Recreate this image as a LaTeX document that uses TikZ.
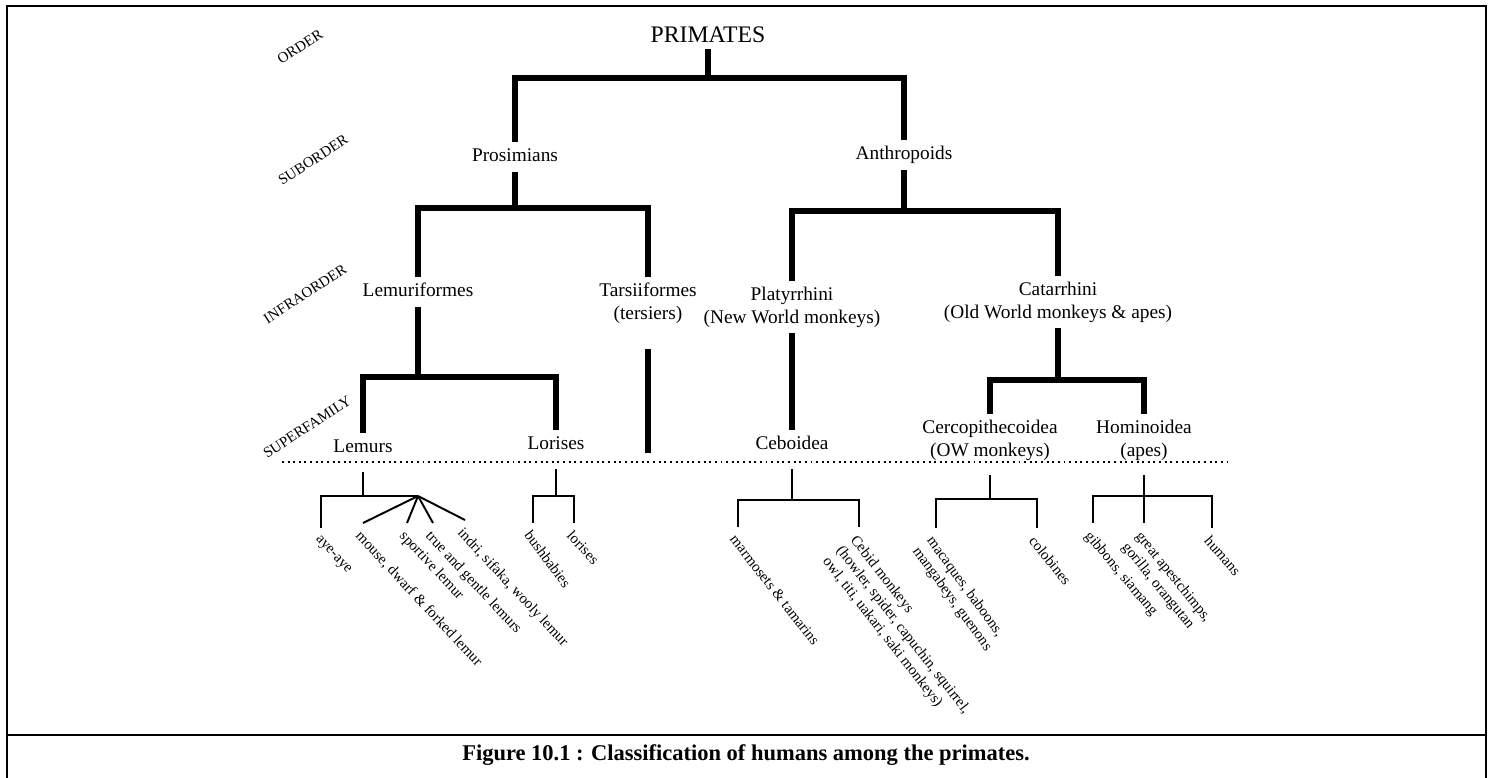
\documentclass[tikz,border=0pt]{standalone}
\usepackage{fontspec}
\setmainfont{Liberation Serif}

\begin{document}
\begin{tikzpicture}[x=0.02cm,y=-0.02cm,
  taxon/.style={font=\fontsize{11}{13}\selectfont,inner sep=0pt,outer sep=3.5pt,align=center},
  line1/.style={text height=8pt,text depth=2.5pt},
  rank/.style={font=\fontsize{8.5}{10}\selectfont,rotate=33},
  leaf/.style={font=\fontsize{8.5}{10}\selectfont,rotate=#1,anchor=north west,inner sep=2.5pt,align=left},
  leaf/.default=-47,
  trunk/.style={line width=3.8pt,line join=miter},
  twig/.style={line width=1.1pt,line join=miter},
  boxline/.style={line width=1.1pt}]
\useasboundingbox (0,0) rectangle (1493,777);
\clip (0,0) rectangle (1493,777);
\draw[boxline] (7,6) rectangle (1486,800);
\draw[boxline] (7,735) -- (1486,735);

\node[rank] (order) at (300,47) {ORDER};
\node[rank] (suborder) at (313,160) {SUBORDER};
\node[rank] (infraorder) at (305,294) {INFRAORDER};
\node[rank] (superfamily) at (307,427) {SUPERFAMILY};

\node[taxon,font=\fontsize{13.5}{16}\selectfont] (primates) at (708,35) {PRIMATES};
\node[taxon,line1] (prosim) at (515,157) {Prosimians};
\node[taxon,line1] (anthro) at (904,155) {Anthropoids};
\node[taxon,line1] (lemuri) at (418,292) {Lemuriformes};
\node[taxon] (tarsii) at (648,303) {Tarsiiformes\\(tersiers)};
\node[taxon] (platy) at (792,307) {Platyrrhini\\(New World monkeys)};
\node[taxon] (catar) at (1058,302) {Catarrhini\\(Old World monkeys \& apes)};
\node[taxon,line1] (lemurs) at (363,448) {Lemurs};
\node[taxon,line1] (lorises) at (556,445) {Lorises};
\node[taxon,line1] (ceboid) at (792,445) {Ceboidea};
\node[taxon] (cerco) at (990,440) {Cercopithecoidea\\(OW monkeys)};
\node[taxon] (homin) at (1144,440) {Hominoidea\\(apes)};

\coordinate (j1) at (708,78);
\coordinate (j2) at (515,208);
\coordinate (j3) at (904,211);
\coordinate (j4) at (418,377);
\coordinate (j5) at (1058,380);
\coordinate (tarsend) at (648,453);
\draw[trunk] (primates.south) -- (j1);
\draw[trunk] (prosim.north) |- (j1) -| (anthro.north);
\draw[trunk] (prosim.south) -- (j2);
\draw[trunk] (lemuri.north) |- (j2) -| (tarsii.north);
\draw[trunk] (anthro.south) -- (j3);
\draw[trunk] (platy.north) |- (j3) -| (catar.north);
\draw[trunk] (lemuri.south) -- (j4);
\draw[trunk] (lemurs.north) |- (j4) -| (lorises.north);
\draw[trunk,shorten <=.4cm] (tarsii.south) -- (tarsend);
\draw[trunk] (platy.south) -- (ceboid.north);
\draw[trunk] (catar.south) -- (j5);
\draw[trunk] (cerco.north) |- (j5) -| (homin.north);

\draw[line width=1.1pt,dash pattern=on 1.1pt off 2.1pt] (282,462) -- (1228,462);

\node[leaf] (ayeaye) at (321,528) {aye-aye};
\node[leaf] (mouse) at (363,523) {mouse, dwarf \& forked lemur};
\node[leaf] (sportive) at (407,523) {sportive lemur};
\node[leaf] (gentle) at (433,523) {true and gentle lemurs};
\node[leaf] (indri) at (465,520) {indri, sifaka, wooly lemur};
\node[leaf=-53] (bush) at (533,523) {bushbabies};
\node[leaf] (loris) at (574,523) {lorises};
\node[leaf=-52] (marmo) at (738,527) {marmosets \& tamarins};
\node[leaf=-52] (cebid) at (859,527) {Cebid monkeys\\(howler, spider, capuchin, squirrel,\\owl, titi, uakari, saki monkeys)};
\node[leaf=-54] (macaq) at (936,528) {macaques, baboons,\\mangabeys, guenons};
\node[leaf=-51] (colob) at (1037,528) {colobines};
\node[leaf=-50] (gibbon) at (1093,523) {gibbons, siamang};
\node[leaf=-51] (great) at (1144,523) {great apestchimps,\\gorilla, orangutan};
\node[leaf=-49] (humans) at (1212,528) {humans};

\coordinate (lmfan) at (418,496);
\coordinate (lrj) at (556,496);
\coordinate (cbj) at (792,500);
\coordinate (cej) at (990,499);
\coordinate (hoj) at (1144,496);
\draw[twig,shorten <=.18cm] (lemurs.south) -- (lemurs.south |- lmfan);
\draw[twig] (ayeaye.north west) |- (lmfan);
\foreach \n in {mouse,sportive,gentle,indri}
  \draw[twig] (lmfan) -- (\n.north west);
\draw[twig,shorten <=.18cm] (lorises.south) -- (lrj);
\draw[twig] (bush.north west) |- (lrj) -| (loris.north west);
\draw[twig,shorten <=.18cm] (ceboid.south) -- (cbj);
\draw[twig] (marmo.north west) |- (cbj) -| (cebid.north west);
\draw[twig,shorten <=.18cm] (cerco.south) -- (cej);
\draw[twig] (macaq.north west) |- (cej) -| (colob.north west);
\draw[twig,shorten <=.18cm] (homin.south) -- (great.north west);
\draw[twig] (gibbon.north west) |- (hoj) -| (humans.north west);

\node[font=\fontsize{12.8}{15}\selectfont\bfseries] (caption) at (746,755) {Figure 10.1 : Classification of humans among the primates.};
\end{tikzpicture}
\end{document}
